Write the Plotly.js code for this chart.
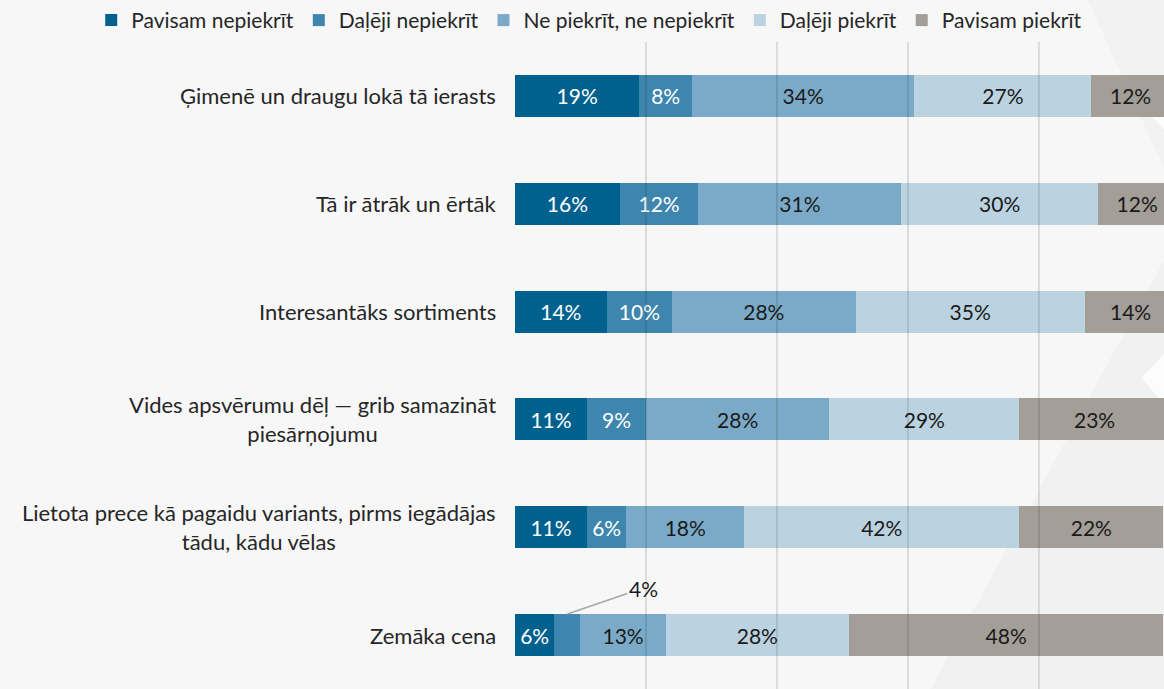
<!DOCTYPE html>
<html>
<head>
<meta charset="utf-8">
<script src="https://cdn.plot.ly/plotly-3.0.1.min.js"></script>
<style>html,body{margin:0;padding:0;background:#f7f7f7;}#chart{width:1164px;height:689px;}</style>
</head>
<body>
<div id="chart"></div>
<script>
const categories = [
  "Ģimenē un draugu lokā tā ierasts",
  "Tā ir ātrāk un ērtāk",
  "Interesantāks sortiments",
  "Vides apsvērumu dēļ — grib samazināt<br>piesārņojumu",
  "Lietota prece kā pagaidu variants, pirms iegādājas<br>tādu, kādu vēlas",
  "Zemāka cena"
];
const seriesNames = ["Pavisam nepiekrīt", "Daļēji nepiekrīt", "Ne piekrīt, ne nepiekrīt", "Daļēji piekrīt", "Pavisam piekrīt"];
const pavisamNepiekrit = [19, 16, 14, 11, 11, 6];
const dalejiNepiekrit = [8, 12, 10, 9, 6, 4];
const nePiekritNeNepiekrit = [34, 31, 28, 28, 18, 13];
const dalejiPiekrit = [27, 30, 35, 29, 42, 28];
const pavisamPiekrit = [12, 12, 14, 23, 22, 48];
const gridTicks = [0, 20, 40, 60, 80, 100];

const seriesValues = [pavisamNepiekrit, dalejiNepiekrit, nePiekritNeNepiekrit, dalejiPiekrit, pavisamPiekrit];
const colors = ["#00618f", "#3e86ae", "#7aaac7", "#bbd3e0", "#a39e98"];
const textColors = ["#ffffff", "#ffffff", "#1a1a1a", "#1a1a1a", "#1a1a1a"];
const FONT = "Lato, 'Open Sans', sans-serif";

const traces = seriesValues.map((vals, i) => ({
  type: "bar",
  orientation: "h",
  name: seriesNames[i],
  y: categories,
  x: vals,
  marker: {color: colors[i], line: {width: 0}},
  text: vals.map((v, j) => (i === 1 && j === 5) ? "" : v + "%"),
  textposition: "inside",
  insidetextanchor: "middle",
  textangle: 0,
  textfont: {color: textColors[i], size: 21, family: FONT},
  constraintext: "none",
  hoverinfo: "name+x"
}));

const annotations = categories.map(c => ({
  xref: "paper", yref: "y", x: 0, y: c, xanchor: "right", xshift: -17,
  text: c, showarrow: false, align: "center",
  font: {size: 22, color: "#262626", family: FONT}
}));
// leader label for the small segment in the last row
const lastIdx = categories.length - 1;
annotations.push({
  xref: "x", yref: "y", x: pavisamNepiekrit[lastIdx] + dalejiNepiekrit[lastIdx] / 2, y: categories[lastIdx],
  text: dalejiNepiekrit[lastIdx] + "%", showarrow: true, arrowhead: 0, arrowwidth: 1.5, arrowcolor: "#a6a6a6",
  ax: 76, ay: -26, yshift: 21, standoff: 0, startstandoff: 0,
  font: {size: 21, color: "#1a1a1a", family: FONT}
});

const shapes = [
  {type: "path", xref: "paper", yref: "paper", layer: "below",
   path: "M 0.64 0 L 1.02 0 L 1.02 0.70 Z", fillcolor: "rgba(0,0,0,0.025)", line: {width: 0}},
  {type: "path", xref: "paper", yref: "paper", layer: "below",
   path: "M 0.88 1.07 L 1.02 1.07 L 1.02 0.76 Z", fillcolor: "rgba(0,0,0,0.02)", line: {width: 0}},
  {type: "path", xref: "paper", yref: "paper", layer: "below",
   path: "M 0.965 0.48 L 1.02 0.54 L 1.02 0.42 Z", fillcolor: "rgba(255,255,255,0.8)", line: {width: 0}},
  {type: "path", xref: "paper", yref: "paper", layer: "below",
   path: "M 0.97 0.90 L 1.02 0.95 L 1.02 0.84 Z", fillcolor: "rgba(255,255,255,0.8)", line: {width: 0}}
].concat(gridTicks.slice(1).map(t => ({
  type: "line", xref: "x", yref: "paper", x0: t, x1: t, y0: 0, y1: 1,
  line: {color: "rgba(0,0,0,0.11)", width: 2}, layer: "above"
})));

const layout = {
  width: 1164, height: 689,
  paper_bgcolor: "#f7f7f7", plot_bgcolor: "rgba(0,0,0,0)",
  barmode: "stack", bargap: 0.61,
  margin: {l: 515, r: 0, t: 42, b: 0, autoexpand: false},
  font: {family: FONT, color: "#262626"},
  xaxis: {range: [0, 99.1], tickvals: gridTicks, showticklabels: false, showgrid: false,
          zeroline: false, fixedrange: true},
  yaxis: {range: [categories.length - 0.5, -0.5], showticklabels: false, showgrid: false,
          zeroline: false, ticks: ""},
  showlegend: true,
  legend: {orientation: "h", xref: "paper", yref: "paper", x: -0.653, xanchor: "left",
           y: 1.065, yanchor: "top",
           font: {size: 21, color: "#262626", family: FONT}, traceorder: "normal",
           bgcolor: "rgba(0,0,0,0)", itemwidth: 30},
  annotations: annotations,
  shapes: shapes
};

Plotly.newPlot("chart", traces, layout, {displayModeBar: false, staticPlot: true});
</script>
</body>
</html>
